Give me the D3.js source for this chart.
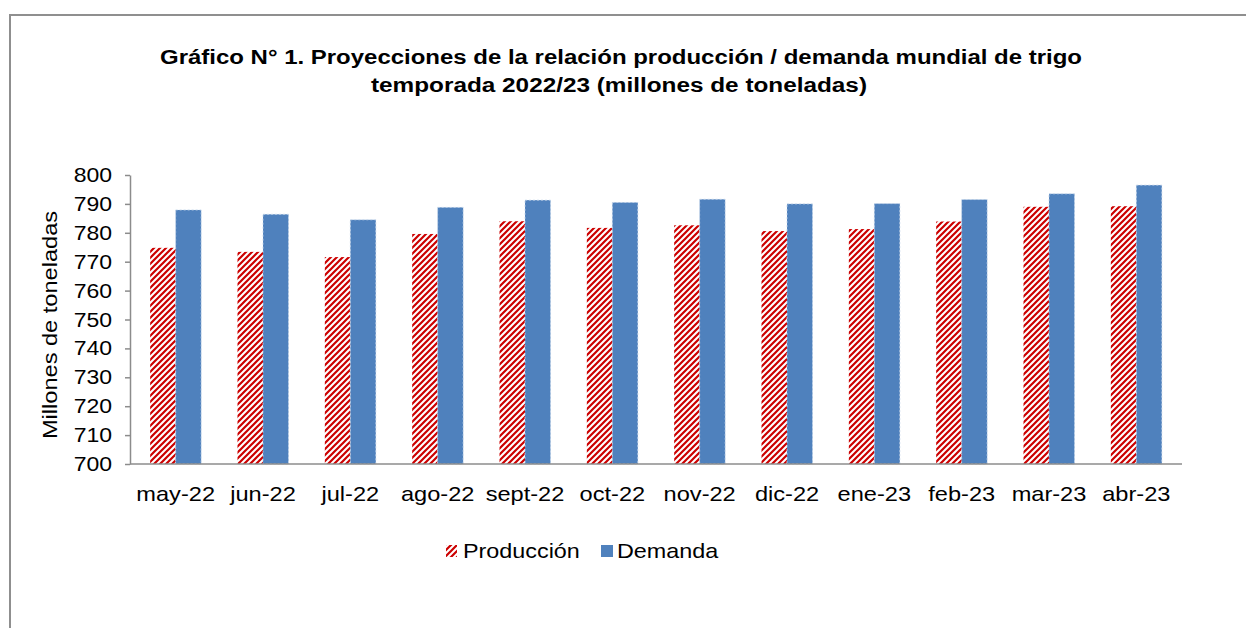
<!DOCTYPE html>
<html><head><meta charset="utf-8">
<script src="https://cdn.jsdelivr.net/npm/d3@7"></script>
<style>body{margin:0;background:#fff;} text{font-family:"Liberation Sans",Arial,sans-serif;fill:#000;}</style>
</head><body>
<svg id="c" width="1246" height="628"></svg>
<script>
const categories = ["may-22","jun-22","jul-22","ago-22","sept-22","oct-22","nov-22","dic-22","ene-23","feb-23","mar-23","abr-23"];
const produccion = [774.8, 773.4, 771.6, 779.6, 784.0, 781.7, 782.6, 780.6, 781.3, 783.9, 789.0, 789.2];
const demanda    = [787.9, 786.4, 784.5, 788.8, 791.3, 790.5, 791.6, 790.0, 790.1, 791.5, 793.5, 796.5];
const yTicks = [700,710,720,730,740,750,760,770,780,790,800];
const seriesNames = ["Producción","Demanda"];
const titleLines = ["Gráfico N° 1. Proyecciones de la relación producción / demanda mundial de trigo","temporada 2022/23  (millones de toneladas)"];
const yTitle = "Millones de toneladas";

const svg = d3.select("#c");
const SX = 1.18;
const defs = svg.append("defs");
const pat = defs.append("pattern").attr("id","stripes").attr("patternUnits","userSpaceOnUse")
  .attr("width",6).attr("height",6);
pat.append("rect").attr("width",6).attr("height",6).attr("fill","#fff");
pat.append("path").attr("d","M0,6 L6,0 M-1.5,1.5 L1.5,-1.5 M4.5,7.5 L7.5,4.5")
  .attr("stroke","#cc0000").attr("stroke-width",2.2);

// outer border
svg.append("rect").attr("x",10).attr("y",15).attr("width",1400).attr("height",800)
  .attr("fill","none").attr("stroke","#8f8f8f").attr("stroke-width",2);

function stext(g, x, y, str, size, anchor, opts={}) {
  const t = g.append("text").attr("transform", `translate(${x},${y})${opts.rot?` rotate(${opts.rot})`:""} scale(${opts.sx||SX},1)`)
    .attr("text-anchor", anchor).attr("font-size", size).text(str);
  if (opts.bold) t.attr("font-weight","bold");
  return t;
}

// title
const tg = svg.append("g");
tg.append("text").attr("x",621).attr("y",64).attr("text-anchor","middle").attr("font-size",20)
  .attr("font-weight","bold").attr("textLength",922).attr("lengthAdjust","spacingAndGlyphs").text(titleLines[0]);
tg.append("text").attr("x",619).attr("y",92).attr("text-anchor","middle").attr("font-size",20)
  .attr("font-weight","bold").attr("textLength",496).attr("lengthAdjust","spacingAndGlyphs").text(titleLines[1]);

const x = d3.scaleBand().domain(categories).range([132,1180]).padding(0);
const y = d3.scaleLinear().domain([700,800]).range([464,175]);
const bw = 25.5;
const xs = d3.scaleBand().domain(seriesNames).range([0, 2*bw]);

// bars
const data = categories.map((c,i)=>({c, p:produccion[i], d:demanda[i]}));
const bars = svg.append("g");
bars.selectAll(".p").data(data).join("rect").attr("class","p")
  .attr("x", d=>x(d.c)+x.bandwidth()/2-bw+xs("Producción")).attr("width", xs.bandwidth())
  .attr("y", d=>y(d.p)).attr("height", d=>y(700)-y(d.p)).attr("fill","url(#stripes)");
bars.selectAll(".d").data(data).join("rect").attr("class","d")
  .attr("x", d=>x(d.c)+x.bandwidth()/2-bw+xs("Demanda")).attr("width", xs.bandwidth())
  .attr("y", d=>y(d.d)).attr("height", d=>y(700)-y(d.d)).attr("fill","#4f81bd")
  .attr("stroke","#c5d6ea").attr("stroke-width",0.8).attr("stroke-dasharray","2,2");

// y axis
const ya = svg.append("g").attr("transform","translate(130,0)")
  .call(d3.axisLeft(y).tickValues(yTicks).tickSize(5).tickSizeOuter(0).tickFormat(""));
ya.selectAll("path,line").attr("stroke","#8c8c8c").attr("stroke-width",1.5);
const yl = svg.append("g");
yTicks.forEach(v=> stext(yl, 112, y(v)+7, String(v), 19.5, "end"));
stext(svg, 57, 325, yTitle, 20, "middle", {rot:-90});

// x axis
svg.append("line").attr("x1",130).attr("x2",1182).attr("y1",464).attr("y2",464)
  .attr("stroke","#8c8c8c").attr("stroke-width",1.5);
const xl = svg.append("g");
categories.forEach(c=> stext(xl, x(c)+x.bandwidth()/2, 501, c, 20, "middle"));

// legend
const lg = svg.append("g");
lg.append("rect").attr("x",446).attr("y",545).attr("width",11).attr("height",12).attr("fill","url(#stripes)");
stext(lg, 463, 558, seriesNames[0], 19.8, "start");
lg.append("rect").attr("x",601).attr("y",545).attr("width",12).attr("height",12).attr("fill","#4f81bd");
stext(lg, 617, 558, seriesNames[1], 19.8, "start");
</script>
</body></html>
